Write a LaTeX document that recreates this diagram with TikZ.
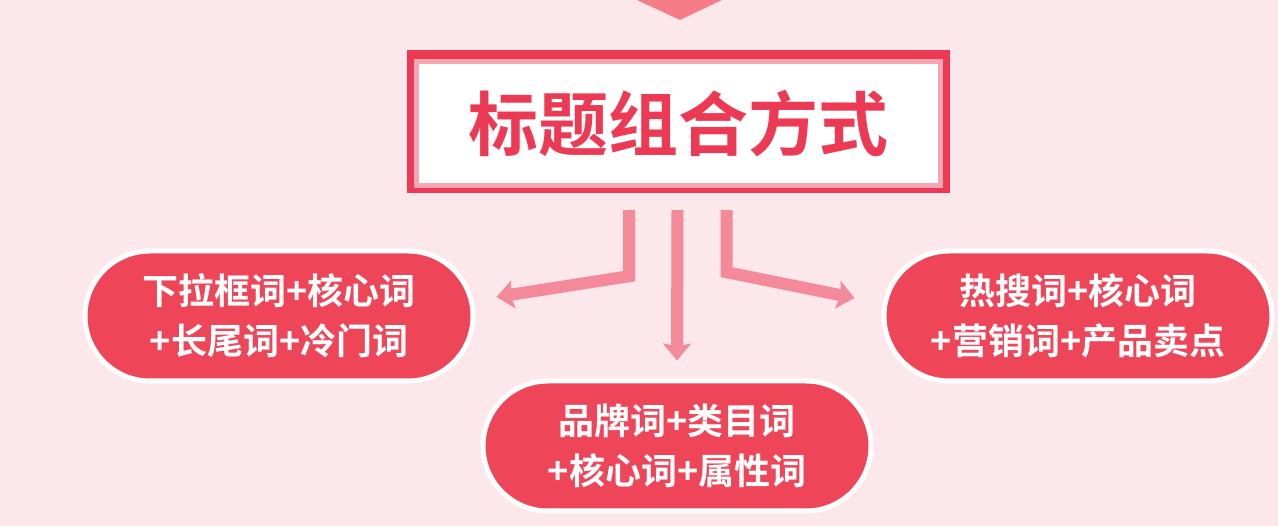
\documentclass[tikz,border=0pt]{standalone}
\usepackage{fontspec}
\newfontfamily\cjk{Noto Sans CJK SC Bold}
\usetikzlibrary{arrows.meta}
\definecolor{bgpink}{HTML}{FCE8EB}
\definecolor{titlered}{HTML}{EC3A54}
\definecolor{pillred}{HTML}{EE4559}
\definecolor{arrowpink}{HTML}{F4899A}
\definecolor{tippink}{HTML}{F67C88}
\begin{document}
\begin{tikzpicture}[x=1pt,y=-1pt,
    pill/.style={rectangle,rounded corners=65pt,fill=pillred,draw=white,line width=5pt,
      minimum width=388pt,minimum height=130pt,text=white,align=center,
      font=\cjk\fontsize{36}{50}\selectfont},
    link/.style={draw=arrowpink,line width=12pt,line join=miter,
      -{Stealth[width=28pt,length=17pt,inset=3pt]}}]
  \fill[bgpink] (0,0) rectangle (1278,526);
  \fill[tippink] (637,0) -- (722,0) -- (680,20) -- cycle;
  \node[rectangle,fill=titlered,minimum width=543pt,minimum height=143pt] (title) at (678.5,121.5) {};
  \node[rectangle,fill=white,draw=titlered!45,line width=5pt,minimum width=524pt,minimum height=124pt,
    text=titlered,font=\cjk\fontsize{70}{70}\selectfont] at (678.5,124) {标题组合方式};
  \node[pill] (kw1) at (279,316) {下拉框词+核心词\\+长尾词+冷门词};
  \node[pill] (kw2) at (677,446) {品牌词+类目词\\+核心词+属性词};
  \node[pill] (kw3) at (1078,316) {热搜词+核心词\\+营销词+产品卖点};
  \begin{scope}[link]
    \draw ([xshift=-49.5pt,yshift=-17pt]title.south) -- ++(0,66) -- ([xshift=21pt,yshift=19pt]kw1.east);
    \draw ([xshift=-1pt,yshift=-17pt]title.south) -- ([yshift=18pt]kw2.north);
    \draw ([xshift=48pt,yshift=-17pt]title.south) -- ++(0,62) -- ([xshift=-27pt,yshift=18pt]kw3.west);
  \end{scope}
\end{tikzpicture}
\end{document}
